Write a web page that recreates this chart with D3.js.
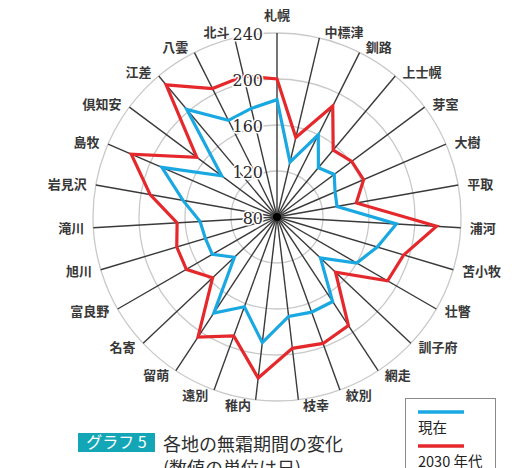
<!DOCTYPE html>
<html lang="ja">
<head>
<meta charset="utf-8">
<script src="https://cdn.jsdelivr.net/npm/d3@7/dist/d3.min.js"></script>
<style>
  html, body { margin: 0; padding: 0; background: #fff; }
  svg { display: block; }
</style>
</head>
<body>
<svg id="chart" width="518" height="468"></svg>
<script>
// Frost-free period (days) by location, clockwise from the top
const categories = ["札幌", "中標津", "釧路", "上士幌", "芽室", "大樹", "平取", "浦河", "苫小牧",
  "壮瞥", "訓子府", "網走", "紋別", "枝幸", "稚内", "遠別", "留萌", "名寄", "富良野",
  "旭川", "滝川", "岩見沢", "島牧", "倶知安", "江差", "八雲", "北斗"];
const currentDays = [182, 129, 160, 136, 142, 135, 133, 184, 171,
  160, 132, 168, 168, 167, 190, 163, 180, 131, 145,
  145, 147, 163, 189, 140, 202, 174, 177];
const days2030s = [200, 151, 188, 156, 161, 162, 150, 219, 195,
  191, 150, 193, 197, 195, 221, 190, 205, 157, 171,
  171, 167, 192, 218, 167, 230, 205, 206];
const radialTicks = [80, 120, 160, 200, 240];
const gridRings = [120, 160, 200, 240];
const seriesNames = ["現在", "2030 年代"];
const titleBadge = "グラフ 5";
const titleLines = ["各地の無霜期間の変化", "(数値の単位は日)"];

const BLUE = "#19a8e2";
const RED = "#e5282c";

const svg = d3.select("#chart");
const cx = 277, cy = 217;

const r = d3.scaleLinear().domain([80, 240]).range([0, 184]);
const angle = d3.scaleLinear().domain([0, categories.length]).range([0, 2 * Math.PI]);

const g = svg.append("g").attr("transform", `translate(${cx},${cy})`);

// grid rings
g.selectAll("circle.ring")
  .data(gridRings)
  .join("circle")
  .attr("class", "ring")
  .attr("r", d => r(d))
  .attr("fill", "none")
  .attr("stroke", "#c9c9c9")
  .attr("stroke-width", 1.3);

// spokes
g.selectAll("line.spoke")
  .data(categories)
  .join("line")
  .attr("class", "spoke")
  .attr("x1", 0).attr("y1", 0)
  .attr("x2", (d, i) => r(240) * Math.sin(angle(i)))
  .attr("y2", (d, i) => -r(240) * Math.cos(angle(i)))
  .attr("stroke", "#3a3a3a")
  .attr("stroke-width", 1.4);

g.append("circle").attr("r", 4).attr("fill", "#000");

// data polygons
const radial = d3.lineRadial()
  .angle((d, i) => angle(i))
  .radius(d => r(d))
  .curve(d3.curveLinearClosed);

g.append("path")
  .datum(currentDays)
  .attr("d", radial)
  .attr("fill", "none")
  .attr("stroke", BLUE)
  .attr("stroke-width", 3.2)
  .attr("stroke-linejoin", "miter");

g.append("path")
  .datum(days2030s)
  .attr("d", radial)
  .attr("fill", "none")
  .attr("stroke", RED)
  .attr("stroke-width", 3.2)
  .attr("stroke-linejoin", "miter");

// radial tick labels along the top spoke
g.selectAll("text.tick")
  .data(radialTicks)
  .join("text")
  .attr("class", "tick")
  .attr("x", -14)
  .attr("y", d => -r(d))
  .attr("dy", "0.42em")
  .attr("text-anchor", "end")
  .attr("font-family", "'DejaVu Serif', serif")
  .attr("font-size", 16)
  .attr("fill", "#2a2a2a")
  .attr("stroke", "#fff")
  .attr("stroke-width", 3)
  .attr("paint-order", "stroke")
  .text(d => d);

// category labels
g.selectAll("text.cat")
  .data(categories)
  .join("text")
  .attr("class", "cat")
  .each(function (d, i) {
    const a = angle(i);
    const s = Math.sin(a), c = Math.cos(a);
    const ex = r(240) * s, ey = -r(240) * c;
    const sel = d3.select(this);
    if (Math.abs(s) < 0.05) {
      sel.attr("x", ex).attr("y", ey - 18).attr("text-anchor", "middle");
    } else {
      const off = 4 + 5 * Math.abs(s);
      sel.attr("x", ex + (s > 0 ? off : -off))
        .attr("y", ey - 5.5 * c)
        .attr("text-anchor", s > 0 ? "start" : "end");
    }
  })
  .attr("dy", "0.36em")
  .attr("font-family", "'Noto Sans CJK JP', sans-serif")
  .attr("font-weight", 700)
  .attr("font-size", 13)
  .attr("fill", "#383838")
  .text(d => d);

// legend
const legend = svg.append("g");
legend.append("rect")
  .attr("x", 405.5).attr("y", 398.5)
  .attr("width", 90).attr("height", 80)
  .attr("fill", "#fff")
  .attr("stroke", "#8a8a8a")
  .attr("stroke-width", 1);
const legendColors = [BLUE, RED];
seriesNames.forEach((name, i) => {
  const y0 = 412 + i * 34;
  legend.append("line")
    .attr("x1", 418).attr("x2", 464)
    .attr("y1", y0).attr("y2", y0)
    .attr("stroke", legendColors[i])
    .attr("stroke-width", 3.5);
  legend.append("text")
    .attr("x", 418).attr("y", y0 + 21)
    .attr("font-family", "'Noto Sans CJK JP', sans-serif")
    .attr("font-size", 14.5)
    .attr("fill", "#222")
    .text(name);
});

// title
const title = svg.append("g");
title.append("rect")
  .attr("x", 78).attr("y", 433)
  .attr("width", 77).attr("height", 19)
  .attr("fill", "#12a6b6");
title.append("text")
  .attr("x", 116.5).attr("y", 448)
  .attr("text-anchor", "middle")
  .attr("font-family", "'Noto Sans CJK JP', sans-serif")
  .attr("font-size", 16)
  .attr("fill", "#fff")
  .text(titleBadge);
titleLines.forEach((line, i) => {
  title.append("text")
    .attr("x", 163).attr("y", 451 + i * 24)
    .attr("font-family", "'Noto Sans CJK JP', sans-serif")
    .attr("font-size", 18)
    .attr("fill", "#2e2e2e")
    .text(line);
});
</script>
</body>
</html>
